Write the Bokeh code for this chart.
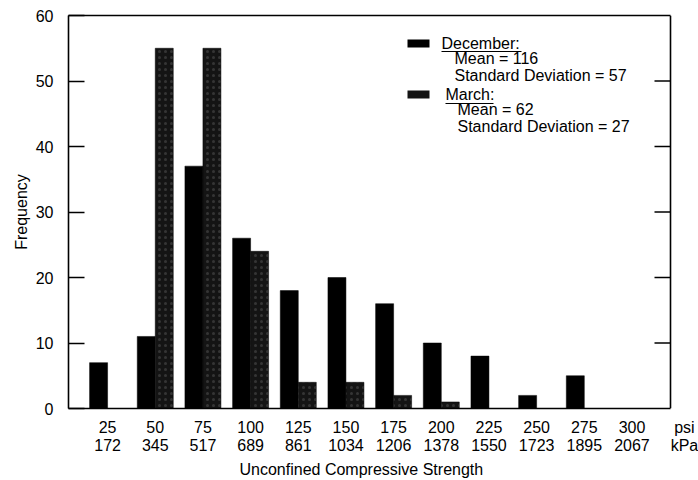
import numpy as np
from bokeh.plotting import figure
from bokeh.models import (ColumnDataSource, FixedTicker, LinearAxis, Label,
                          Range1d, BoxAnnotation, Span, Title)
from bokeh.transform import dodge
from bokeh.embed import file_html
from bokeh.resources import INLINE

# ---- data ----
psi = [25, 50, 75, 100, 125, 150, 175, 200, 225, 250, 275, 300]
kpa = [172, 345, 517, 689, 861, 1034, 1206, 1378, 1550, 1723, 1895, 2067]
december = [7, 11, 37, 26, 18, 20, 16, 10, 8, 2, 5, 0]
march = [0, 55, 55, 24, 4, 4, 2, 1, 0, 0, 0, 0]
y_ticks = [0, 10, 20, 30, 40, 50, 60]
unit_label = "psi\nkPa"
x_title = "Unconfined Compressive Strength"
y_title = "Frequency"
legend_lines = {
    "December:": ["Mean = 116", "Standard Deviation = 57"],
    "March:": ["Mean = 62", "Standard Deviation = 27"],
}

FONT = "Liberation Sans"
FS = "16px"

# visible box spans x 68..670 px; the frame is extended to the canvas edge
# (698 px) so that the unit labels can sit beside the tick labels.
X0, X1 = 4.5, 320.2
Y0, Y1 = 0, 60
PX_PER_X = 602 / (X1 - X0)
PX_PER_Y = 393 / (Y1 - Y0)
XR_END = X0 + 630 / PX_PER_X
UNIT_POS = 327.5
BAR_W = 9.44

p = figure(width=698, height=480, x_range=Range1d(X0, XR_END), y_range=Range1d(Y0, Y1),
           output_backend="svg", toolbar_location=None,
           min_border_left=68, min_border_top=15, min_border_right=0,
           min_border_bottom=72)
p.xgrid.visible = False
p.ygrid.visible = False
p.outline_line_color = None
p.background_fill_color = "white"
p.border_fill_color = "white"

# left axis
ya = p.yaxis[0]
ya.ticker = FixedTicker(ticks=y_ticks)
ya.major_tick_in = 16
ya.major_tick_out = 0
ya.minor_tick_line_color = None
ya.axis_line_width = 1.6
ya.major_tick_line_width = 1.6
ya.major_label_standoff = 15
ya.major_label_text_font = FONT
ya.major_label_text_font_size = FS
ya.major_label_text_color = "black"
ya.axis_label = y_title
ya.axis_label_text_font = FONT
ya.axis_label_text_font_size = FS
ya.axis_label_text_font_style = "normal"
ya.axis_label_text_color = "black"
ya.axis_label_standoff = 3

# bottom tick-label axis (no line), includes the unit labels
xa = p.xaxis[0]
xa.ticker = FixedTicker(ticks=psi + [UNIT_POS])
overrides = {v: f"{v}\n{k}" for v, k in zip(psi, kpa)}
overrides[UNIT_POS] = unit_label
xa.major_label_overrides = overrides
xa.axis_line_color = None
xa.major_tick_line_color = None
xa.major_tick_in = 0
xa.major_tick_out = 0
xa.minor_tick_line_color = None
xa.major_label_standoff = 10
xa.major_label_text_font = FONT
xa.major_label_text_font_size = FS
xa.major_label_text_color = "black"
xa.major_label_text_line_height = 1.1

# bottom edge of the box (line only)
ba = LinearAxis(bounds=(X0, X1), ticker=FixedTicker(ticks=[]),
                major_tick_line_color=None, minor_tick_line_color=None,
                major_label_text_font_size="0px", major_label_standoff=0,
                axis_line_width=1.6)
p.below = [ba, xa]

# x title (placed under the visible box, not the extended frame)
p.add_layout(Title(text=x_title, align="left", offset=171, standoff=2,
                   text_font=FONT, text_font_size=FS, text_font_style="normal",
                   text_color="black"), "below")

# top edge of the box
ta = LinearAxis(bounds=(X0, X1), ticker=FixedTicker(ticks=[]),
                major_tick_line_color=None, minor_tick_line_color=None,
                major_label_text_font_size="0px", major_label_standoff=0,
                axis_line_width=1.6)
p.add_layout(ta, "above")

# right edge of the box with inward ticks
p.add_layout(Span(location=X1, dimension="height", line_color="black",
                  line_width=1.6))
p.ray(x=[X1] * (len(y_ticks) - 2), y=y_ticks[1:-1], length=16,
      length_units="screen", angle=np.pi, line_color="black", line_width=1.6)

# bars
src = ColumnDataSource(dict(psi=psi, december=december, march=march))
p.vbar(x=dodge("psi", -BAR_W / 2), top="december", width=BAR_W, source=src,
       fill_color="black", line_color="black", line_width=0.5)
p.vbar(x=dodge("psi", BAR_W / 2), top="march", width=BAR_W, source=src,
       fill_color="#141414", line_color="black", line_width=0.5,
       hatch_pattern="dot", hatch_color="white", hatch_alpha=0.14,
       hatch_scale=6, hatch_weight=1)

# ---- legend (pixel layout converted to data units) ----


def dx(px):
    return X0 + (px - 68) / PX_PER_X


def dy(py):
    return Y1 - (py - 15) / PX_PER_Y


entries = [("December:", 39, 43, 51, "black"), ("March:", 90, 94, 103, "#141414")]
for i, (name, sw_top, text_y, ul_y, col) in enumerate(entries):
    p.add_layout(BoxAnnotation(left=dx(407), right=dx(429), top=dy(sw_top),
                               bottom=dy(sw_top + 8), fill_color=col,
                               fill_alpha=1, line_color=None))
    tx = 441 + 4 * i
    p.add_layout(Label(x=dx(tx), y=dy(text_y), text=name, text_align="left",
                       text_baseline="middle", text_font=FONT,
                       text_font_size=FS, text_color="black"))
    ul_w = 80 if i == 0 else 48
    p.segment(x0=[dx(tx)], y0=[dy(ul_y)], x1=[dx(tx + ul_w)], y1=[dy(ul_y)],
              line_color="black", line_width=1.2)
    for j, line in enumerate(legend_lines[name]):
        p.add_layout(Label(x=dx(454 + 3 * i), y=dy(text_y + 15 + 17 * j),
                           text=line, text_align="left",
                           text_baseline="middle", text_font=FONT,
                           text_font_size=FS, text_color="black"))

open("out.html", "w").write(file_html(p, INLINE))
